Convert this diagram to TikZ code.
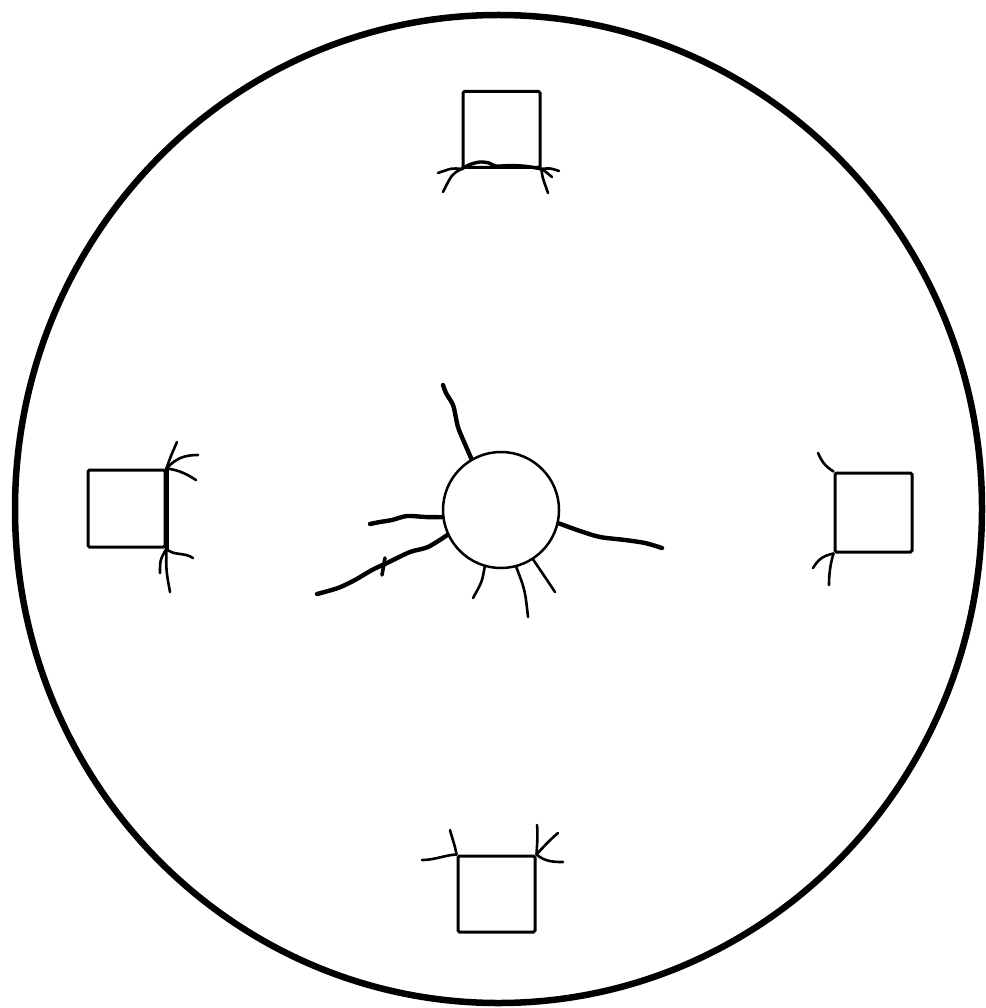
\documentclass[tikz,border=0pt]{standalone}
\begin{document}
\begin{tikzpicture}[x=1pt,y=-1pt,
  sq/.style={draw,line width=3pt,minimum width=77pt,minimum height=76pt,inner sep=0pt,rounded corners=1.5pt},
  root/.style={line width=2.6pt,line cap=round,line join=round},
  thickroot/.style={line width=4.4pt,line cap=round,line join=round},
  hub/.style={draw,circle,line width=2.5pt,minimum size=116pt,inner sep=0pt}]
\useasboundingbox (0,0) rectangle (985,1008);
% outer circle
\draw[line width=6.5pt] (498.5,509) ellipse [x radius=483.5, y radius=494];
% squares
\node[sq] (top) at (501.5,129.5) {};
\node[sq,minimum height=77pt] (left) at (126.5,508.5) {};
\node[sq,minimum height=79pt] (right) at (873.5,512.5) {};
\node[sq] (bottom) at (496.5,894) {};
% centre circle
\node[hub] (hub) at (501,510) {};

% top square roots
\draw[root,line width=3.4pt] plot[smooth] coordinates {(top.south west) (470,164.5) (480,162) (489,163) (496,166) (512,165.5) (527,166.5) (top.south east)};
\draw[root] (top.south west) .. controls (452,168) .. (438,173);
\draw[root] (top.south west) .. controls (452,174) .. (443,192);
\draw[root] (top.south east) .. controls (550,168) .. (559,171);
\draw[root] (top.south east) .. controls (546,172) .. (552,177);
\draw[root] (top.south east) .. controls (542,176) .. (548,193);

% left square roots
\draw[root,line width=4pt] (left.north east) -- (left.south east);
\draw[root] (left.north east) .. controls (170,458) .. (177,442);
\draw[root] (left.north east) .. controls (176,458) and (185,455) .. (198,455);
\draw[root] (left.north east) .. controls (180,470) and (188,475) .. (196,480);
\draw[root] (left.south east) .. controls (166,570) .. (170,592);
\draw[root] (left.south east) .. controls (160,560) .. (160,573);
\draw[root] (left.south east) .. controls (172,556) and (185,552) .. (193,558);

% right square roots
\draw[root] (right.north west) .. controls (825,466) and (822,462) .. (818,453);
\draw[root] (right.south west) .. controls (822,556) and (818,560) .. (813,568);
\draw[root] (right.south west) .. controls (830,565) and (829,575) .. (829,585);

% bottom square roots
\draw[root] (bottom.north west) .. controls (455,845) and (452,838) .. (450,830);
\draw[root] (bottom.north west) .. controls (445,855) and (435,860) .. (422,860);
\draw[root] (bottom.north east) .. controls (537,845) and (538,835) .. (537,825);
\draw[root] (bottom.north east) .. controls (545,845) and (552,838) .. (558,833);
\draw[root] (bottom.north east) .. controls (545,862) and (555,862) .. (563,862);

% centre roots
\draw[thickroot] plot[smooth] coordinates {(hub.120) (459,430) (456,418) (453,405) (446,393) (443,385)};
\draw[thickroot] plot[smooth] coordinates {(hub.187) (425,517) (407,516) (392,520) (380,522) (370,524)};
\draw[thickroot] plot[smooth] coordinates {(hub.205) (428,547) (410,552) (387,563) (372,570) (355,580) (338,588) (317,594)};
\draw[root,line width=3.6pt] (385,558) -- (382,575);
\draw[thickroot] plot[smooth] coordinates {(hub.-13) (580,531) (600,537) (625,540) (645,543) (662,548)};
\draw[root] (hub.-106) .. controls (482,582) .. (473,598);
\draw[root] (hub.-75) .. controls (525,590) .. (528,617);
\draw[root] (hub.-57) .. controls (545,577) .. (555,592);
\end{tikzpicture}
\end{document}
